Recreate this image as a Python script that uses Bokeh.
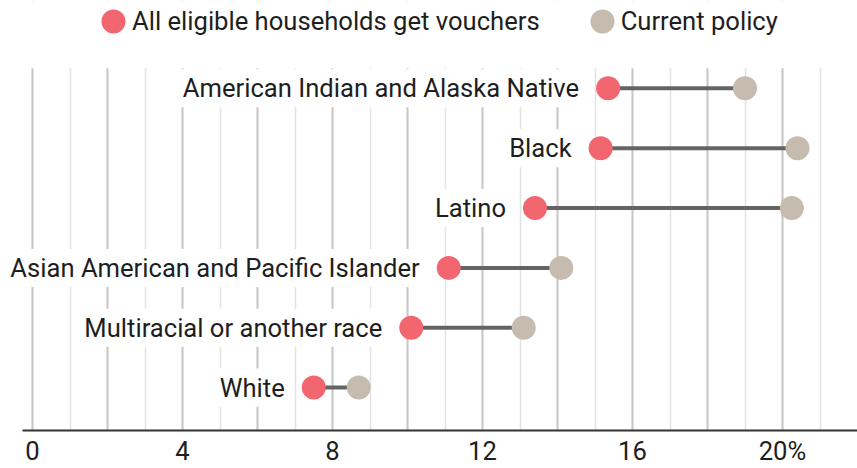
from bokeh.plotting import figure
from bokeh.models import (ColumnDataSource, Range1d, FixedTicker, SingleIntervalTicker,
                          Label, Legend, LegendItem, BoxAnnotation)
from bokeh.embed import file_html
from bokeh.resources import INLINE

groups = ["American Indian and Alaska Native", "Black", "Latino",
          "Asian American and Pacific Islander", "Multiracial or another race", "White"]
all_vouchers = [15.35, 15.15, 13.4, 11.1, 10.1, 7.5]
current_policy = [19.0, 20.4, 20.25, 14.1, 13.1, 8.7]
tick_values = [0, 4, 8, 12, 16, 20]
tick_labels = ["0", "4", "8", "12", "16", "20%"]
series_names = ["All eligible households get vouchers", "Current policy"]

RED = "#f2676f"
BEIGE = "#c5bcaf"
FONT = "Roboto"
FSIZE = "25.6px"
TXT = "#1e1e1e"

n = len(groups)
rows = [n - 1 - i for i in range(n)]
src = ColumnDataSource(dict(group=groups, row=rows, a=all_vouchers, c=current_policy))

p = figure(width=857, height=468, output_backend="svg", toolbar_location=None,
           x_range=Range1d(-32 / 37.5, 22.0), y_range=Range1d(-0.7167, n - 1 + 88 / 60),
           min_border_left=0, min_border_right=0, min_border_top=0, min_border_bottom=37)
p.outline_line_color = None
p.background_fill_color = "white"
p.border_fill_color = "white"
p.yaxis.visible = False
p.ygrid.visible = False

p.xgrid.ticker = SingleIntervalTicker(interval=2, num_minor_ticks=2)
p.xgrid.grid_line_color = "#c8c8c8"
p.xgrid.grid_line_width = 2
p.xgrid.minor_grid_line_color = "#e3e3e3"
p.xgrid.minor_grid_line_width = 1.5

p.xaxis.ticker = FixedTicker(ticks=tick_values)
p.xaxis.bounds = (-10 / 37.5, 22.0)
p.xaxis.major_label_overrides = {v: t for v, t in zip(tick_values, tick_labels)}
p.xaxis.axis_line_color = "#333333"
p.xaxis.axis_line_width = 2
p.xaxis.major_tick_line_color = None
p.xaxis.minor_tick_line_color = None
p.xaxis.major_tick_out = 0
p.xaxis.minor_tick_out = 0
p.xaxis.major_label_text_font = FONT
p.xaxis.major_label_text_font_size = FSIZE
p.xaxis.major_label_text_color = TXT
p.xaxis.major_label_standoff = 5

# white cover above the rows (legend area)
p.add_layout(BoxAnnotation(bottom=n - 1 + 1 / 3, fill_color="white", fill_alpha=1, line_alpha=0))

p.segment(x0="a", y0="row", x1="c", y1="row", source=src, line_color="#646464", line_width=4)
r_a = p.ellipse(x="a", y="row", width=24, height=24, width_units="screen", height_units="screen",
                fill_color=RED, line_color=None, source=src)
r_c = p.ellipse(x="c", y="row", width=24, height=24, width_units="screen", height_units="screen",
                fill_color=BEIGE, line_color=None, source=src)

for g, r, a in zip(groups, rows, all_vouchers):
    p.add_layout(Label(x=a, y=r, text=g, x_offset=-25, text_align="right", text_baseline="middle",
                       text_font=FONT, text_font_size=FSIZE, text_color=TXT,
                       background_fill_color="white", padding=4))

legend = Legend(items=[LegendItem(label=series_names[0], renderers=[r_a]),
                       LegendItem(label=series_names[1], renderers=[r_c])],
                orientation="horizontal", location=(98, 394),
                glyph_width=30, glyph_height=30, label_standoff=4, spacing=47,
                padding=0, margin=0, border_line_alpha=0, background_fill_alpha=0,
                inactive_fill_alpha=0,
                label_text_font=FONT, label_text_font_size=FSIZE, label_text_color=TXT)
p.add_layout(legend, "center")

open("out.html", "w").write(file_html(p, INLINE))
